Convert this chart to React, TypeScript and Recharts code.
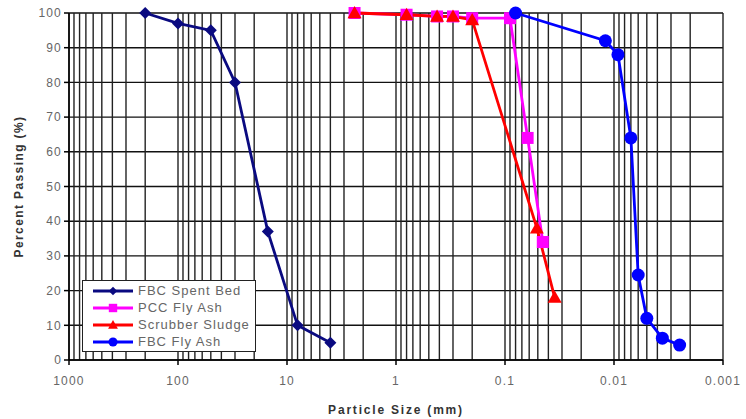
import React from 'react';
import {
   LineChart,
   Line,
   XAxis,
   YAxis,
   CartesianGrid,
   ReferenceLine,
} from 'recharts';

// particle size (mm) / percent passing
const spentBedSize = [200, 100, 50, 30, 15, 8, 4];
const spentBedPct = [100, 97, 95, 80, 37, 10, 5];

const pccSize = [2.4, 0.8, 0.42, 0.3, 0.2, 0.09, 0.062, 0.045];
const pccPct = [100, 99.5, 99, 99, 98.5, 98.5, 64, 34];

const sludgeSize = [2.4, 0.8, 0.42, 0.3, 0.2, 0.051, 0.035];
const sludgePct = [100, 99.5, 99, 99, 98, 38, 18];

const flyAshSize = [0.08, 0.012, 0.0092, 0.007, 0.006, 0.005, 0.0036, 0.0025];
const flyAshPct = [100, 92, 88, 64, 24.5, 12, 6.3, 4.3];

const xTicks = [1000, 100, 10, 1, 0.1, 0.01, 0.001];
const yTicks = [0, 10, 20, 30, 40, 50, 60, 70, 80, 90, 100];
const decades = [0.001, 0.01, 0.1, 1, 10, 100];
const minorSteps = [2, 3, 4, 5, 6, 7, 8, 9];

const toPoints = (sizes: number[], pcts: number[]) =>
   sizes.map((s, i) => ({ size: s, pct: pcts[i] }));

const series = [
   { name: 'FBC Spent Bed', color: '#0a0a80', shape: 'diamond', data: toPoints(spentBedSize, spentBedPct) },
   { name: 'PCC Fly Ash', color: '#ff00ff', shape: 'square', data: toPoints(pccSize, pccPct) },
   { name: 'Scrubber Sludge', color: '#ff0000', shape: 'triangle', data: toPoints(sludgeSize, sludgePct) },
   { name: 'FBC Fly Ash', color: '#0000ff', shape: 'circle', data: toPoints(flyAshSize, flyAshPct) },
];

const gridX: number[] = [];
decades.forEach((d) => minorSteps.forEach((m) => gridX.push(+(d * m).toPrecision(3))));
xTicks.forEach((t) => gridX.push(t));

const font = '"Liberation Sans", Arial, sans-serif';

const Marker = ({ cx, cy, shape, color, s = 1 }: any) => {
   if (cx == null || cy == null) return null;
   if (shape === 'diamond') {
      const r = 6 * s;
      return <polygon points={`${cx},${cy - r} ${cx + r},${cy} ${cx},${cy + r} ${cx - r},${cy}`} fill={color} />;
   }
   if (shape === 'square') {
      const r = 6 * s;
      return <rect x={cx - r} y={cy - r} width={2 * r} height={2 * r} fill={color} />;
   }
   if (shape === 'triangle') {
      const r = 7 * s;
      return <polygon points={`${cx},${cy - r} ${cx + r},${cy + r * 0.75} ${cx - r},${cy + r * 0.75}`} fill={color} />;
   }
   return <circle cx={cx} cy={cy} r={6.5 * s} fill={color} />;
};

// legend sits inside the plot, bottom left
const LegendBox = () => (
   <div style={{
      position: 'absolute', left: 82, top: 280,
      background: '#fff', border: '1.5px solid #222', width: 174, height: 72,
      boxSizing: 'border-box', padding: '1px 0 0 8px',
   }}>
      {series.map((s) => (
         <div key={s.name} style={{ display: 'flex', alignItems: 'center', height: 17 }}>
            <svg width={46} height={14}>
               <line x1={2} y1={7} x2={42} y2={7} stroke={s.color} strokeWidth={3} />
               <Marker cx={22} cy={7} shape={s.shape} color={s.color} s={0.7} />
            </svg>
            <span style={{ fontFamily: font, fontSize: 13, letterSpacing: 1, color: '#666', marginLeft: 1 }}>
               {s.name}
            </span>
         </div>
      ))}
   </div>
);

const tickStyle = { fontFamily: font, fontSize: 12, fill: '#666', letterSpacing: 1.2 };

const App: React.FC = () => {
   return (
      <div style={{ position: 'absolute', left: 0, top: 0, width: 746, height: 419, background: '#fff' }}>
         <LineChart width={746} height={419} margin={{ top: 13, right: 23, left: 0, bottom: 0 }}>
            <CartesianGrid vertical={false} stroke="#111" strokeWidth={1.4} />
            {gridX.map((v) => (
               <ReferenceLine key={v} x={v} stroke="#222" strokeWidth={1.4} />
            ))}
            <XAxis
               dataKey="size"
               type="number"
               scale="log"
               domain={[0.001, 1000]}
               reversed
               allowDataOverflow
               ticks={xTicks}
               tickFormatter={(v: number) => String(v)}
               tick={{ ...tickStyle, dy: 9 }}
               tickLine={{ stroke: '#000', strokeWidth: 1.5 }}
               axisLine={{ stroke: '#000', strokeWidth: 1.5 }}
               tickSize={5}
               height={59}
               interval={0}
               label={{
                  value: 'Particle Size (mm)', position: 'insideBottom', offset: 5,
                  style: { fontFamily: font, fontSize: 12, fontWeight: 'bold', fill: '#333', letterSpacing: 1.8 },
               }}
            />
            <YAxis
               type="number"
               domain={[0, 100]}
               ticks={yTicks}
               interval={0}
               width={69}
               tick={tickStyle}
               tickLine={{ stroke: '#000', strokeWidth: 1.5 }}
               axisLine={{ stroke: '#000', strokeWidth: 1.5 }}
               tickSize={5}
               label={{
                  value: 'Percent Passing (%)', angle: -90, position: 'center', dx: -16,
                  style: { fontFamily: font, fontSize: 12, fontWeight: 'bold', fill: '#333', letterSpacing: 1.4 },
               }}
            />
            {series.map((s) => (
               <Line
                  key={s.name}
                  name={s.name}
                  data={s.data}
                  dataKey="pct"
                  stroke={s.color}
                  strokeWidth={2.8}
                  isAnimationActive={false}
                  dot={(p: any) => <Marker key={`${s.name}-${p.index}`} cx={p.cx} cy={p.cy} shape={s.shape} color={s.color} />}
                  activeDot={false}
               />
            ))}
         </LineChart>
         <LegendBox />
      </div>
   );
};

export default App;
